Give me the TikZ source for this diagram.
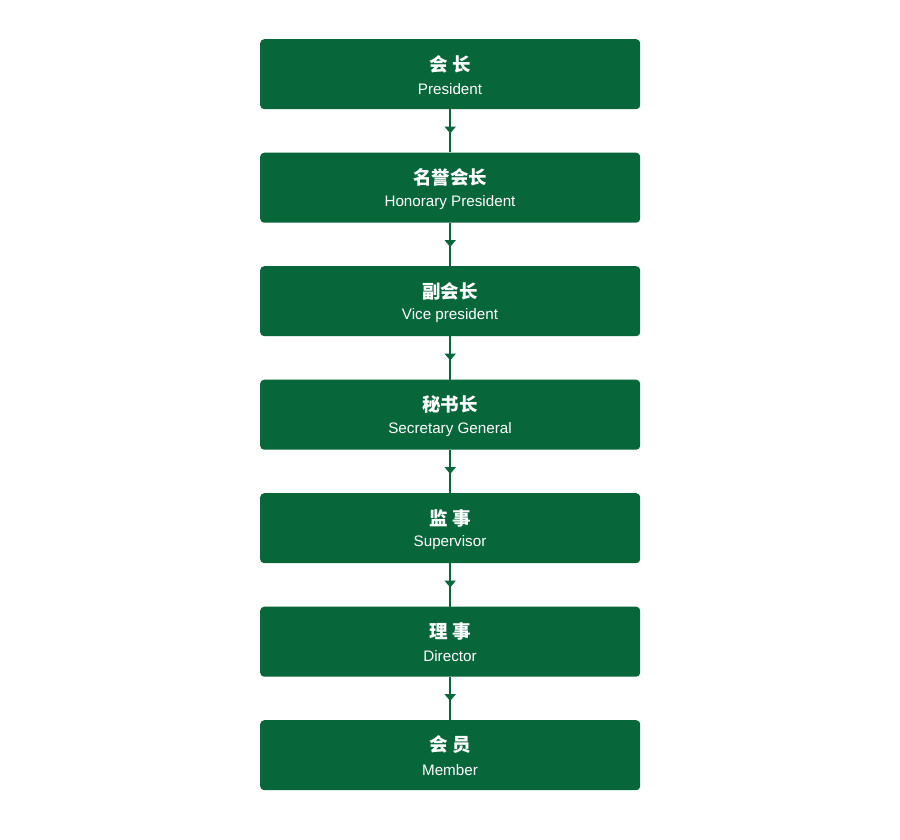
\documentclass[tikz,border=0pt]{standalone}
\usepackage{fontspec}
\setmainfont{Liberation Sans}
\newfontfamily\cjk{Noto Sans CJK SC}
\usetikzlibrary{arrows.meta,decorations.markings}
\definecolor{dgreen}{RGB}{7,102,58}
\tikzset{
  rolebox/.style={fill=dgreen, rounded corners=4pt, minimum width=380pt, minimum height=70pt, inner sep=0pt, anchor=north west},
  zh/.style={text=white, font=\cjk\bfseries\fontsize{18.5}{21}\selectfont, anchor=center},
  en/.style={text=white, font=\fontsize{15.2}{17}\selectfont, anchor=center},
  link/.style={draw=dgreen, line width=2pt, postaction={decorate}, decoration={markings, mark=at position 0.56 with {\arrow{Triangle[width=11pt,length=7pt]}}}, dgreen}
}
\begin{document}
\begin{tikzpicture}[x=1pt,y=-1pt]
\useasboundingbox (0,0) rectangle (900,840);
\foreach \i/\t/\zhtext/\entext in {1/39/会\ 长/President, 2/152.5/名誉会长/Honorary President, 3/266/副会长/Vice president, 4/379.5/秘书长/Secretary General, 5/493/监\ 事/Supervisor, 6/606.5/理\ 事/Director, 7/720/会\ 员/Member}{
  \node[rolebox] (b\i) at (260,\t) {};
  \node[zh] (z\i) at (450,\t+25) {\zhtext};
  \node[en] (e\i) at (450,\t+50) {\entext};
}
\foreach \i [evaluate=\i as \j using int(\i+1)] in {1,...,6}{
  \draw[link] (b\i.south) -- (b\j.north);
}
\end{tikzpicture}
\end{document}
